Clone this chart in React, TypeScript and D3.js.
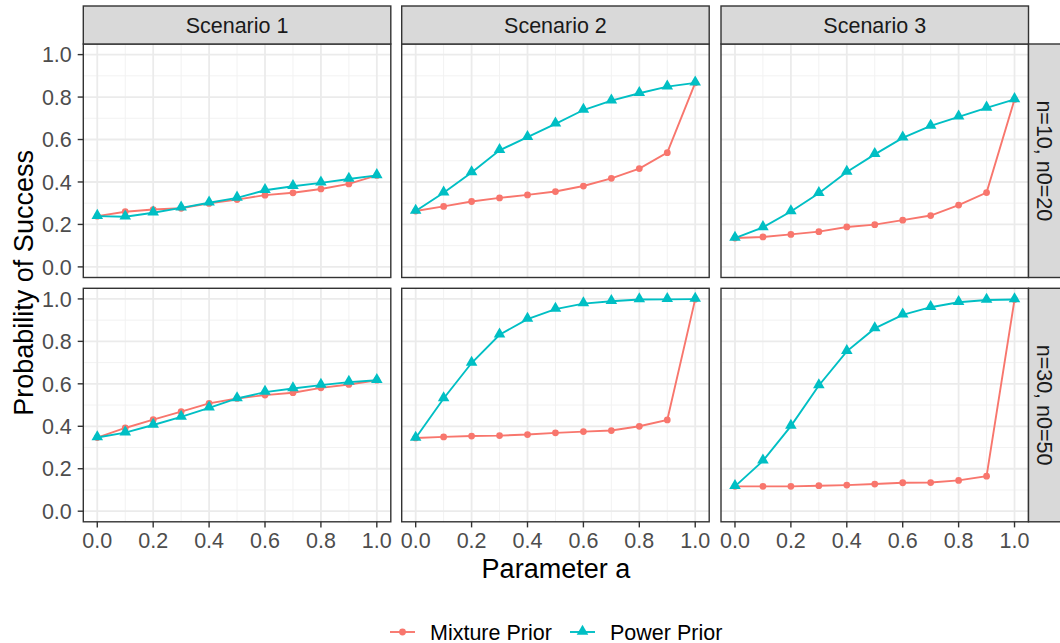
import React, { useEffect, useRef } from "react";
import * as d3 from "d3";

// facets
const scenarios = ["Scenario 1", "Scenario 2", "Scenario 3"];
const sampleSizes = ["n=10, n0=20", "n=30, n0=50"];
const paramA = [0, 0.1, 0.2, 0.3, 0.4, 0.5, 0.6, 0.7, 0.8, 0.9, 1.0];
const seriesNames = ["Mixture Prior", "Power Prior"];

// n=10, n0=20
const mixtureS1N10 = [0.239, 0.26, 0.27, 0.276, 0.299, 0.317, 0.338, 0.349, 0.367, 0.391, 0.431];
const powerS1N10 = [0.239, 0.236, 0.255, 0.278, 0.302, 0.325, 0.361, 0.38, 0.396, 0.414, 0.431];
const mixtureS2N10 = [0.263, 0.285, 0.308, 0.325, 0.339, 0.355, 0.381, 0.417, 0.463, 0.538, 0.867];
const powerS2N10 = [0.263, 0.349, 0.445, 0.549, 0.611, 0.674, 0.739, 0.783, 0.818, 0.849, 0.867];
const mixtureS3N10 = [0.136, 0.141, 0.153, 0.166, 0.188, 0.199, 0.22, 0.242, 0.291, 0.35, 0.789];
const powerS3N10 = [0.136, 0.186, 0.261, 0.347, 0.447, 0.53, 0.608, 0.664, 0.707, 0.749, 0.789];

// n=30, n0=50
const mixtureS1N30 = [0.347, 0.392, 0.431, 0.469, 0.508, 0.531, 0.547, 0.558, 0.581, 0.597, 0.617];
const powerS1N30 = [0.347, 0.37, 0.406, 0.444, 0.487, 0.531, 0.561, 0.578, 0.594, 0.608, 0.617];
const mixtureS2N30 = [0.345, 0.35, 0.354, 0.356, 0.361, 0.369, 0.375, 0.38, 0.4, 0.43, 0.999];
const powerS2N30 = [0.345, 0.531, 0.698, 0.831, 0.905, 0.952, 0.978, 0.989, 0.997, 0.998, 0.999];
const mixtureS3N30 = [0.117, 0.117, 0.117, 0.12, 0.123, 0.128, 0.134, 0.135, 0.145, 0.165, 0.997];
const powerS3N30 = [0.117, 0.237, 0.401, 0.592, 0.753, 0.861, 0.925, 0.961, 0.984, 0.995, 0.997];

const xTicks = [0, 0.2, 0.4, 0.6, 0.8, 1.0];
const xMinor = [0.1, 0.3, 0.5, 0.7, 0.9];
const yTicks = [0, 0.2, 0.4, 0.6, 0.8, 1.0];
const yMinor = [0.1, 0.3, 0.5, 0.7, 0.9];

const panels = [
  [
    [mixtureS1N10, powerS1N10],
    [mixtureS2N10, powerS2N10],
    [mixtureS3N10, powerS3N10],
  ],
  [
    [mixtureS1N30, powerS1N30],
    [mixtureS2N30, powerS2N30],
    [mixtureS3N30, powerS3N30],
  ],
];

const colors = ["#F8766D", "#00BFC4"];
const FONT = "'Liberation Sans', Arial, Helvetica, sans-serif";

export default function App() {
  const svgRef = useRef<SVGSVGElement>(null);

  useEffect(() => {
    const width = 1060;
    const height = 643;
    const svg = d3.select(svgRef.current);
    svg.selectAll("*").remove();
    svg.attr("width", width).attr("height", height).style("font-family", FONT);

    svg.append("rect").attr("width", width).attr("height", height).attr("fill", "white");

    const colLeft = [83.3, 401.7, 721];
    const rowTop = [44, 288.3];
    const panelW = 307.5;
    const panelH = 233.5;
    const stripSize = 38;

    const x = d3.scaleLinear().domain([-0.05, 1.05]).range([0, panelW]);
    const y = d3.scaleLinear().domain([-0.05, 1.05]).range([panelH, 0]);

    const triangle = d3.symbol().type(d3.symbolTriangle).size(58);
    const circle = d3.symbol().type(d3.symbolCircle).size(36);

    panels.forEach((row, ri) => {
      row.forEach((series, ci) => {
        const g = svg
          .append("g")
          .attr("transform", `translate(${colLeft[ci]},${rowTop[ri]})`);

        // background + grid
        g.append("rect").attr("width", panelW).attr("height", panelH).attr("fill", "white");
        xMinor.forEach((v) =>
          g.append("line").attr("x1", x(v)).attr("x2", x(v)).attr("y1", 0).attr("y2", panelH)
            .attr("stroke", "#F2F2F2").attr("stroke-width", 1)
        );
        yMinor.forEach((v) =>
          g.append("line").attr("y1", y(v)).attr("y2", y(v)).attr("x1", 0).attr("x2", panelW)
            .attr("stroke", "#F2F2F2").attr("stroke-width", 1)
        );
        xTicks.forEach((v) =>
          g.append("line").attr("x1", x(v)).attr("x2", x(v)).attr("y1", 0).attr("y2", panelH)
            .attr("stroke", "#EBEBEB").attr("stroke-width", 1.8)
        );
        yTicks.forEach((v) =>
          g.append("line").attr("y1", y(v)).attr("y2", y(v)).attr("x1", 0).attr("x2", panelW)
            .attr("stroke", "#EBEBEB").attr("stroke-width", 1.8)
        );

        const line = d3
          .line<number>()
          .x((_, i) => x(paramA[i]))
          .y((d) => y(d));

        series.forEach((vals, si) => {
          g.append("path").attr("d", line(vals)).attr("fill", "none")
            .attr("stroke", colors[si]).attr("stroke-width", 1.9);
        });
        series.forEach((vals, si) => {
          vals.forEach((v, i) => {
            g.append("path")
              .attr("d", si === 0 ? circle() : triangle())
              .attr("transform", `translate(${x(paramA[i])},${y(v) + (si === 1 ? -0.6 : 0)})`)
              .attr("fill", colors[si]);
          });
        });

        // border
        g.append("rect").attr("width", panelW).attr("height", panelH).attr("fill", "none")
          .attr("stroke", "#333333").attr("stroke-width", 1.4);

        // top strip
        if (ri === 0) {
          g.append("rect").attr("x", 0).attr("y", -stripSize).attr("width", panelW)
            .attr("height", stripSize).attr("fill", "#D9D9D9")
            .attr("stroke", "#333333").attr("stroke-width", 1.4);
          g.append("text").attr("x", panelW / 2).attr("y", -stripSize / 2)
            .attr("dy", "0.36em").attr("text-anchor", "middle")
            .style("font-size", "21.5px").style("fill", "#1A1A1A")
            .text(scenarios[ci]);
        }

        // right strip
        if (ci === 2) {
          g.append("rect").attr("x", panelW).attr("y", 0).attr("width", stripSize)
            .attr("height", panelH).attr("fill", "#D9D9D9")
            .attr("stroke", "#333333").attr("stroke-width", 1.4);
          g.append("text")
            .attr("transform", `translate(${panelW + stripSize / 2 - 3},${panelH / 2}) rotate(90)`)
            .attr("dy", "0.36em").attr("text-anchor", "middle")
            .style("font-size", "21.5px").style("fill", "#1A1A1A")
            .text(sampleSizes[ri]);
        }

        // y axis
        if (ci === 0) {
          yTicks.forEach((v) => {
            g.append("line").attr("x1", -5.6).attr("x2", 0).attr("y1", y(v)).attr("y2", y(v))
              .attr("stroke", "#333333").attr("stroke-width", 1.4);
            g.append("text").attr("x", -11.5).attr("y", y(v)).attr("dy", "0.36em")
              .attr("text-anchor", "end").style("font-size", "21.5px").style("fill", "#4D4D4D")
              .text(d3.format(".1f")(v));
          });
        }

        // x axis
        if (ri === 1) {
          xTicks.forEach((v) => {
            g.append("line").attr("x1", x(v)).attr("x2", x(v)).attr("y1", panelH)
              .attr("y2", panelH + 5.6).attr("stroke", "#333333").attr("stroke-width", 1.4);
            g.append("text").attr("x", x(v)).attr("y", panelH + 26)
              .attr("text-anchor", "middle").style("font-size", "21.5px").style("fill", "#4D4D4D")
              .text(d3.format(".1f")(v));
          });
        }
      });
    });

    // axis titles
    svg.append("text").attr("x", (colLeft[0] + colLeft[2] + panelW) / 2).attr("y", 578)
      .attr("text-anchor", "middle").style("font-size", "27px").style("fill", "black")
      .text("Parameter a");
    svg.append("text")
      .attr("transform", `translate(33,${(rowTop[0] + rowTop[1] + panelH) / 2}) rotate(-90)`)
      .attr("text-anchor", "middle").style("font-size", "27px").style("fill", "black")
      .text("Probability of Success");

    // legend
    const legend = svg.append("g").attr("transform", "translate(390,632)");
    const keyX = [0, 180];
    seriesNames.forEach((name, i) => {
      const k = legend.append("g").attr("transform", `translate(${keyX[i]},0)`);
      k.append("line").attr("x1", 0).attr("x2", 25).attr("y1", 0).attr("y2", 0)
        .attr("stroke", colors[i]).attr("stroke-width", 1.9);
      k.append("path").attr("d", i === 0 ? circle() : triangle())
        .attr("transform", `translate(12.5,${i === 1 ? -0.6 : 0})`).attr("fill", colors[i]);
      k.append("text").attr("x", 40).attr("y", 7.5).style("font-size", "21.5px")
        .style("fill", "black").text(name);
    });
  }, []);

  return (
    <div style={{ position: "absolute", left: 0, top: 0 }}>
      <svg ref={svgRef} style={{ display: "block" }} />
    </div>
  );
}
